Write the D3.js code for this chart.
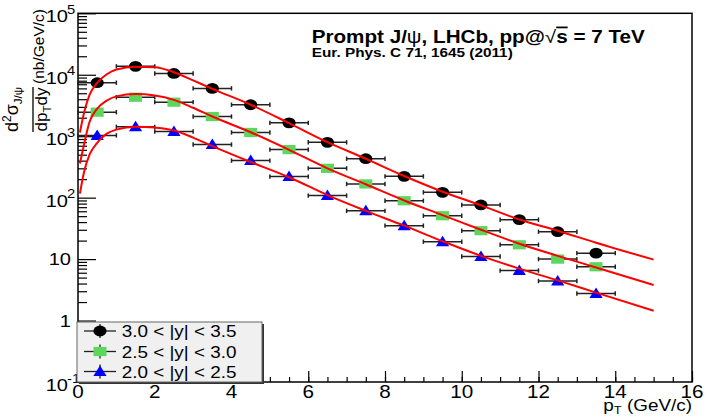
<html lang="en">
<head>
  <meta charset="UTF-8">
  <title>Prompt J/psi LHCb</title>
  <script src="https://d3js.org/d3.v7.min.js"></script>
  <style>
    body { margin: 0; background: #fff; }
    text { font-family: "Liberation Sans", Arial, sans-serif; fill: #000; }
  </style>
</head>
<body>
  <svg class="chart" width="707" height="417"></svg>
  <script>
    // data points (pT bin centres)
    const pt = [0.5, 1.5, 2.5, 3.5, 4.5, 5.5, 6.5, 7.5, 8.5, 9.5, 10.5, 11.5, 12.5, 13.5];
    const ptHalfWidth = 0.5;
    const y30to35 = [7420, 13700, 10500, 6000, 3250, 1650, 795, 430, 222, 122, 76, 43.8, 27.9, 12.5];
    const y25to30 = [2460, 4310, 3580, 2090, 1150, 605, 300, 167, 89, 50.8, 29, 17.1, 10, 7.5];
    const y20to25 = [1030, 1420, 1190, 731, 401, 220, 108, 61, 35, 19.2, 11, 6.5, 4.4, 2.76];

    // fit curves, sampled off the figure
    const fitPt = [0.05, 0.15, 0.3, 0.5, 0.75, 1.0, 1.5, 2.0, 2.5, 3.0, 3.5, 4.5, 5.5, 6.5, 7.5, 8.5, 9.5, 10.5, 11.5, 12.5, 13.5, 15];
    const fit30to35 = [1150, 2300, 4700, 7400, 10200, 12200, 13500, 13300, 11000, 8100, 5900, 3250, 1630, 800, 430, 225, 125, 75, 44, 29, 18.5, 9.8];
    const fit25to30 = [360, 700, 1700, 2800, 3800, 4450, 4850, 4600, 3900, 2900, 2090, 1160, 600, 300, 165, 90, 52, 30, 17.8, 11.3, 7.3, 3.8];
    const fit20to25 = [116, 250, 500, 780, 1100, 1280, 1430, 1380, 1240, 950, 690, 380, 215, 110, 61, 35, 19.5, 11.3, 7.0, 4.5, 2.85, 1.44];

    const legendLabels = ['3.0 < |y| < 3.5', '2.5 < |y| < 3.0', '2.0 < |y| < 2.5'];

    const xTicks = [0, 2, 4, 6, 8, 10, 12, 14, 16];
    const yTicks = [0.1, 1, 10, 100, 1000, 10000, 100000];
    const yTickBase = ['10', '1', '10', '10', '10', '10', '10'];
    const yTickExp = ['-1', '', '', '2', '3', '4', '5'];

    const svg = d3.select('svg.chart');
    const frame = { left: 78, right: 692, top: 13.3, bottom: 382 };
    const sx = 1.18; // horizontal stretch of the original picture

    const x = d3.scaleLinear().domain([0, 16]).range([frame.left, frame.right]);
    const y = d3.scaleLog().domain([0.1, 1e5]).range([frame.bottom, frame.top]);

    function stretched(sel, px, py) {
      return sel.attr('transform', `translate(${px},${py}) scale(${sx},1)`);
    }

    // ticks
    let xMinor = d3.range(0, 16.01, 0.5);
    svg.append('g')
      .attr('transform', `translate(0,${frame.bottom})`)
      .call(d3.axisBottom(x).tickValues(xMinor).tickSize(-5).tickSizeOuter(0).tickFormat(''))
      .call(g => g.select('.domain').remove());
    svg.append('g')
      .attr('transform', `translate(0,${frame.bottom})`)
      .call(d3.axisBottom(x).tickValues(xTicks).tickSize(-11).tickSizeOuter(0).tickFormat(''))
      .call(g => g.select('.domain').remove());

    let yMinor = [];
    for (let k = -1; k < 5; k++) {
      for (let m = 2; m < 10; m++) yMinor.push(m * Math.pow(10, k));
    }
    svg.append('g')
      .attr('transform', `translate(${frame.left},0)`)
      .call(d3.axisLeft(y).tickValues(yMinor).tickSize(-9).tickSizeOuter(0).tickFormat(''))
      .call(g => g.select('.domain').remove());
    svg.append('g')
      .attr('transform', `translate(${frame.left},0)`)
      .call(d3.axisLeft(y).tickValues(yTicks).tickSize(-18).tickSizeOuter(0).tickFormat(''))
      .call(g => g.select('.domain').remove());
    svg.selectAll('.tick line').attr('stroke', '#000').attr('stroke-width', 1.2);

    // frame
    svg.append('rect')
      .attr('x', frame.left).attr('y', frame.top)
      .attr('width', frame.right - frame.left).attr('height', frame.bottom - frame.top)
      .attr('fill', 'none').attr('stroke', '#000').attr('stroke-width', 1.5);

    // tick labels
    xTicks.forEach(v => {
      stretched(svg.append('text'), x(v), 398)
        .attr('text-anchor', 'middle').style('font-size', '17.5px').text(v);
    });
    yTicks.forEach((v, i) => {
      if (yTickExp[i] === '') {
        stretched(svg.append('text'), 71, y(v) + 6)
          .attr('text-anchor', 'end').style('font-size', '17px').text(yTickBase[i]);
      } else {
        stretched(svg.append('text'), 68, y(v) + 9)
          .attr('text-anchor', 'end').style('font-size', '17px').text(yTickBase[i]);
        stretched(svg.append('text'), 67, y(v) + 0.5)
          .attr('text-anchor', 'start').style('font-size', '12.5px').text(yTickExp[i]);
      }
    });

    // axis titles
    let xt = stretched(svg.append('text'), frame.right, 410.5)
      .attr('text-anchor', 'end').style('font-size', '16px');
    xt.append('tspan').text('p');
    xt.append('tspan').attr('dy', 3.5).style('font-size', '11px').text('T');
    xt.append('tspan').attr('dy', -3.5).text(' (GeV/c)');

    let yt = svg.append('g').attr('transform', 'rotate(-90)');
    yt.append('text').attr('x', -46.5).attr('y', 44).attr('text-anchor', 'middle')
      .style('font-size', '15.5px').text('(nb/GeV/c)');
    let num = yt.append('text').attr('x', -109.5).attr('y', 18).attr('text-anchor', 'middle')
      .style('font-size', '18px');
    num.append('tspan').text('d');
    num.append('tspan').attr('dy', -7).style('font-size', '12px').text('2');
    num.append('tspan').attr('dy', 7).text('σ');
    num.append('tspan').attr('dy', 4).style('font-size', '11.5px').text('J/ψ');
    let den = yt.append('text').attr('x', -109.5).attr('y', 47).attr('text-anchor', 'middle')
      .style('font-size', '17px');
    den.append('tspan').text('dp');
    den.append('tspan').attr('dy', 4).style('font-size', '11.5px').text('T');
    den.append('tspan').attr('dy', -4).text('dy');
    svg.append('line').attr('x1', 33).attr('x2', 33).attr('y1', 87).attr('y2', 132)
      .attr('stroke', '#000').attr('stroke-width', 1.3);

    // title
    let title = stretched(svg.append('text'), 311.7, 43)
      .style('font-size', '17.5px').style('font-weight', 'bold');
    title.append('tspan').text('Prompt J/');
    title.append('tspan').style('font-weight', 'normal').text('ψ');
    title.append('tspan').text(', LHCb, pp@');
    title.append('tspan').style('font-weight', 'normal').text('√');
    title.append('tspan').style('text-decoration', 'overline').text('s');
    title.append('tspan').text(' = 7 TeV');
    stretched(svg.append('text'), 311.7, 56.5)
      .style('font-size', '13px').style('font-weight', 'bold')
      .text('Eur. Phys. C 71, 1645 (2011)');

    // markers
    const series = [
      { vals: y30to35, fit: fit30to35, color: '#000000', shape: 'circle' },
      { vals: y25to30, fit: fit25to30, color: '#5cd65c', shape: 'square' },
      { vals: y20to25, fit: fit20to25, color: '#0000ff', shape: 'triangle' }
    ];

    function drawMarker(g, shape, color, cx, cy) {
      if (shape === 'circle') {
        g.append('ellipse').attr('cx', cx).attr('cy', cy).attr('rx', 6.6).attr('ry', 5.4).attr('fill', color);
      } else if (shape === 'square') {
        g.append('rect').attr('x', cx - 6.5).attr('y', cy - 4.6).attr('width', 13).attr('height', 9.2).attr('fill', color);
      } else {
        g.append('path')
          .attr('d', `M${cx},${cy - 6} L${cx + 6.6},${cy + 4.5} L${cx - 6.6},${cy + 4.5} Z`)
          .attr('fill', color);
      }
    }

    let markG = svg.append('g');
    series.forEach(s => {
      s.vals.forEach((v, i) => {
        let x1 = x(pt[i] - ptHalfWidth), x2 = x(pt[i] + ptHalfWidth), cy = y(v);
        markG.append('line').attr('x1', x1).attr('x2', x2).attr('y1', cy).attr('y2', cy)
          .attr('stroke', '#222').attr('stroke-width', 1.5);
        [x1, x2].forEach(xx => {
          markG.append('line').attr('x1', xx).attr('x2', xx).attr('y1', cy - 2.2).attr('y2', cy + 2.2)
            .attr('stroke', '#222').attr('stroke-width', 1.5);
        });
      });
      s.vals.forEach((v, i) => drawMarker(markG, s.shape, s.color, x(pt[i]), y(v)));
    });

    // fit curves
    const line = d3.line().x(d => x(d[0])).y(d => y(d[1])).curve(d3.curveMonotoneX);
    series.forEach(s => {
      svg.append('path')
        .attr('d', line(fitPt.map((p, i) => [p, s.fit[i]])))
        .attr('fill', 'none').attr('stroke', '#ff0000').attr('stroke-width', 2);
    });

    // legend
    const lg = { x: 77, y: 322, w: 185, h: 60 };
    svg.append('rect').attr('x', lg.x + 2).attr('y', lg.y + 2).attr('width', lg.w).attr('height', lg.h)
      .attr('fill', '#333');
    svg.append('rect').attr('x', lg.x).attr('y', lg.y).attr('width', lg.w).attr('height', lg.h)
      .attr('fill', '#f0f0f0').attr('stroke', '#666').attr('stroke-width', 1);
    const rowY = [331, 351.5, 371.5];
    series.forEach((s, i) => {
      svg.append('line').attr('x1', 84).attr('x2', 116).attr('y1', rowY[i]).attr('y2', rowY[i])
        .attr('stroke', '#222').attr('stroke-width', 1.3);
      svg.append('line').attr('x1', 100).attr('x2', 100).attr('y1', rowY[i] - 7).attr('y2', rowY[i] + 7)
        .attr('stroke', '#222').attr('stroke-width', 1.3);
      drawMarker(svg, s.shape, s.color, 100, rowY[i]);
      stretched(svg.append('text'), 121.7, rowY[i] + 6)
        .style('font-size', '16px').text(legendLabels[i]);
    });
  </script>
</body>
</html>
